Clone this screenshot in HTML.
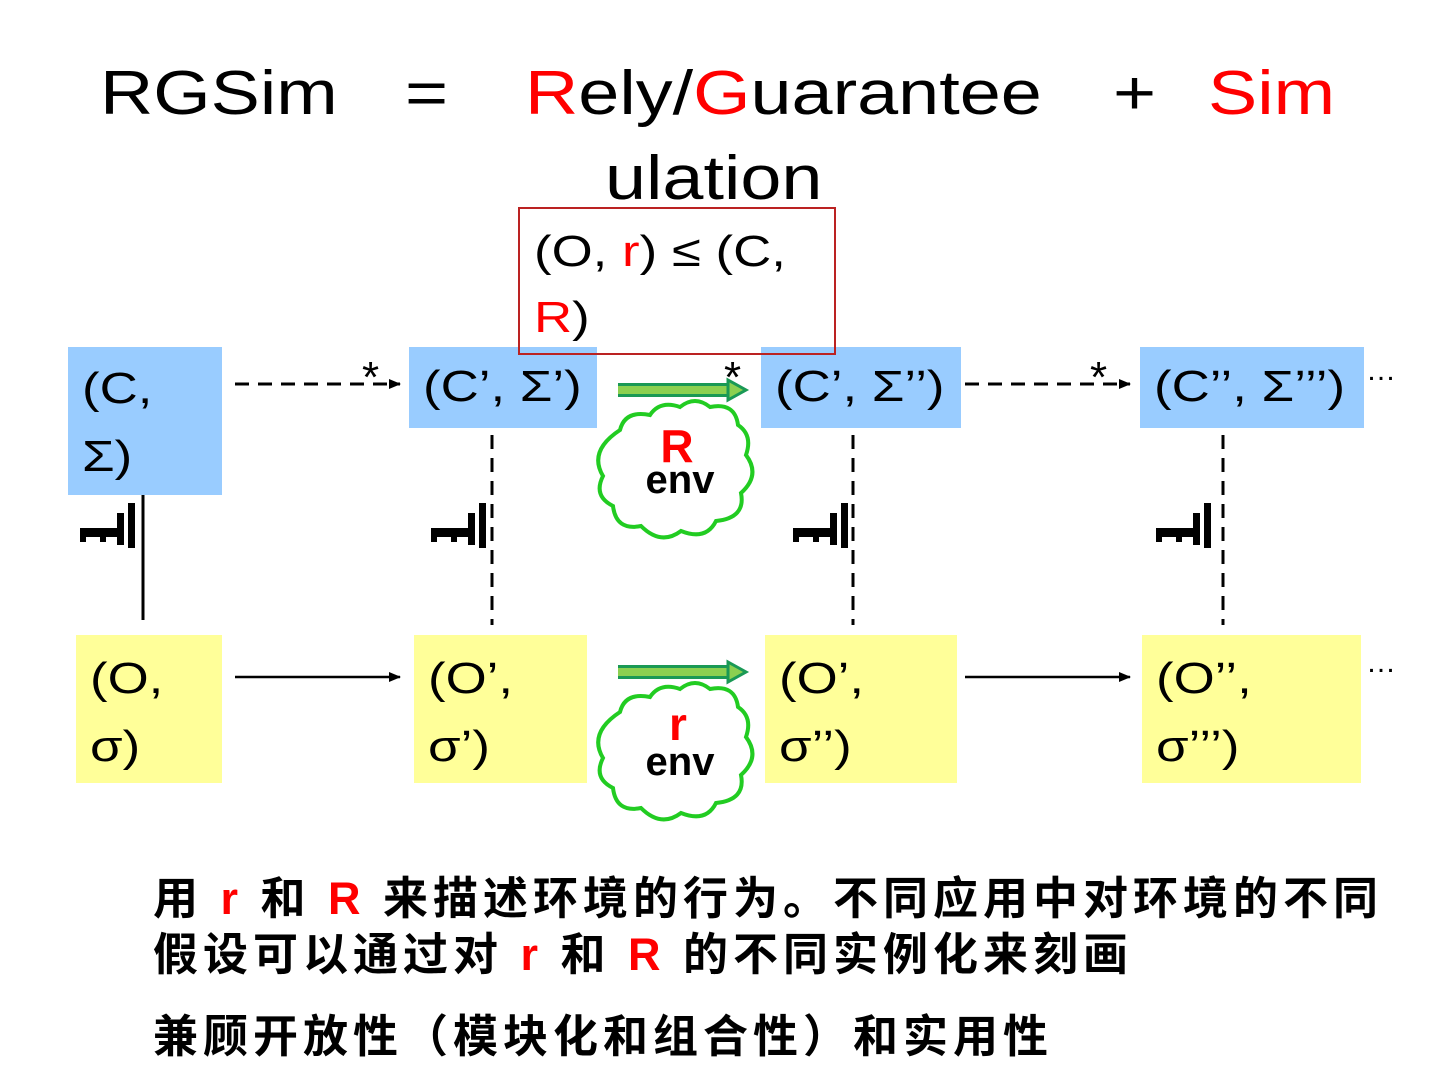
<!DOCTYPE html>
<html><head><meta charset="utf-8"><style>
body{margin:0;width:1440px;height:1080px;background:#fff;position:relative;overflow:hidden;font-family:"Liberation Sans","Noto Sans CJK SC",sans-serif}
.a{position:absolute}
.s{display:inline-block;transform:scaleX(1.2);transform-origin:0 0;white-space:nowrap}
.t{font-size:44px;line-height:68px;color:#000;padding-left:14px;box-sizing:border-box}
.b{background:#99ccff}.y{background:#ffff99}
.r{color:#f00}
.cn{font-size:45px;font-weight:bold;white-space:nowrap;letter-spacing:5px}
.h{font-size:62px;white-space:nowrap;transform:scaleX(1.19);transform-origin:0 0}
</style></head><body>
<div class="a h" style="left:100px;top:58px">RGSim</div>
<div class="a h" style="left:405px;top:58px">=</div>
<div class="a h" style="left:525px;top:58px"><span class="r">R</span>ely/<span class="r">G</span>uarantee</div>
<div class="a h" style="left:1113px;top:58px">+</div>
<div class="a h r" style="left:1208px;top:58px">Sim</div>
<div class="a h" style="left:605px;top:143px">ulation</div>

<div class="a b t" style="left:68px;top:347px;width:154px;height:148px;padding-top:8px"><span class="s">(C,<br>Σ)</span></div>
<div class="a b t" style="left:409px;top:347px;width:188px;height:81px;padding-top:6px"><span class="s">(C’, Σ’)</span></div>
<div class="a b t" style="left:761px;top:347px;width:200px;height:81px;padding-top:6px"><span class="s">(C’, Σ’’)</span></div>
<div class="a b t" style="left:1140px;top:347px;width:224px;height:81px;padding-top:6px"><span class="s">(C’’, Σ’’’)</span></div>

<div class="a y t" style="left:76px;top:635px;width:146px;height:148px;padding-top:10px"><span class="s">(O,<br>σ)</span></div>
<div class="a y t" style="left:414px;top:635px;width:173px;height:148px;padding-top:10px"><span class="s">(O’,<br>σ’)</span></div>
<div class="a y t" style="left:765px;top:635px;width:192px;height:148px;padding-top:10px"><span class="s">(O’,<br>σ’’)</span></div>
<div class="a y t" style="left:1142px;top:635px;width:219px;height:148px;padding-top:10px"><span class="s">(O’’,<br>σ’’’)</span></div>

<div class="a t" style="left:518px;top:207px;width:318px;height:148px;border:2px solid #b22;padding-left:14px;padding-top:10px;line-height:66px"><span class="s">(O, <span class="r">r</span>) ≤ (C,<br><span class="r">R</span>)</span></div>

<svg class="a" style="left:0;top:0" width="1440" height="1080">
<defs><marker id="ah" markerWidth="12" markerHeight="10" refX="11" refY="5" orient="auto" markerUnits="userSpaceOnUse"><path d="M0,0L12,5L0,10z" fill="#000"/></marker></defs>
<g stroke="#000" stroke-width="3" fill="none">
<line x1="235" y1="384" x2="400" y2="384" stroke-dasharray="14,9" marker-end="url(#ah)"/>
<line x1="965" y1="384" x2="1130" y2="384" stroke-dasharray="14,9" marker-end="url(#ah)"/>
<line x1="235" y1="677" x2="400" y2="677" stroke-width="2.5" marker-end="url(#ah)"/>
<line x1="965" y1="677" x2="1130" y2="677" stroke-width="2.5" marker-end="url(#ah)"/>
<line x1="143" y1="495" x2="143" y2="620"/>
<line x1="492" y1="435" x2="492" y2="625" stroke-dasharray="14,9"/>
<line x1="853" y1="435" x2="853" y2="625" stroke-dasharray="14,9"/>
<line x1="1223" y1="435" x2="1223" y2="625" stroke-dasharray="14,9"/>
</g>
<g font-size="44" font-family="Liberation Sans">
<text x="362" y="392">*</text><text x="724" y="392">*</text><text x="1090" y="392">*</text>
<text x="1366" y="380" font-size="30">…</text><text x="1366" y="672" font-size="30">…</text>
</g>
<g fill="#000">
<g id="k"><rect x="80" y="528" width="40" height="9"/><rect x="80" y="528" width="6" height="14"/><rect x="100" y="528" width="6" height="14"/><rect x="117" y="513" width="7" height="32"/><rect x="128" y="503" width="7" height="45"/></g>
<use href="#k" x="351"/><use href="#k" x="713"/><use href="#k" x="1076"/>
</g>
<g>
<path d="M618,390H733" stroke="#1a9955" stroke-width="14"/><path d="M618,390H733" stroke="#8cd050" stroke-width="8"/>
<path d="M728,380L746,390L728,400z" fill="#8cd050" stroke="#1a9955" stroke-width="3"/>
<path d="M618,672H733" stroke="#1a9955" stroke-width="14"/><path d="M618,672H733" stroke="#8cd050" stroke-width="8"/>
<path d="M728,662L746,672L728,682z" fill="#8cd050" stroke="#1a9955" stroke-width="3"/>
</g>
<g fill="#fff" stroke="#22cc22" stroke-width="4">
<path d="M620,430 q5,-20 30,-15 q10,-15 30,-8 q15,-12 30,0 q25,-5 28,18 q15,10 8,30 q15,20 -5,38 q5,25 -25,28 q-10,20 -35,10 q-20,15 -40,-5 q-25,5 -28,-20 q-20,-10 -10,-30 q-15,-25 17,-46z"/>
<path d="M620,712 q5,-20 30,-15 q10,-15 30,-8 q15,-12 30,0 q25,-5 28,18 q15,10 8,30 q15,20 -5,38 q5,25 -25,28 q-10,20 -35,10 q-20,15 -40,-5 q-25,5 -28,-20 q-20,-10 -10,-30 q-15,-25 17,-46z"/>
</g>
<g font-family="Liberation Sans" font-weight="bold" text-anchor="middle">
<text x="677" y="462" font-size="46" fill="#f00">R</text>
<text x="680" y="493" font-size="40">env</text>
<text x="678" y="740" font-size="46" fill="#f00">r</text>
<text x="680" y="775" font-size="40">env</text>
</g>
</svg>

<div class="a cn" style="left:153px;top:862px">用 <span class="r">r</span> 和 <span class="r">R</span> 来描述环境的行为。不同应用中对环境的不同</div>
<div class="a cn" style="left:153px;top:918px">假设可以通过对 <span class="r">r</span> 和 <span class="r">R</span> 的不同实例化来刻画</div>
<div class="a cn" style="left:153px;top:1000px">兼顾开放性（模块化和组合性）和实用性</div>
</body></html>
